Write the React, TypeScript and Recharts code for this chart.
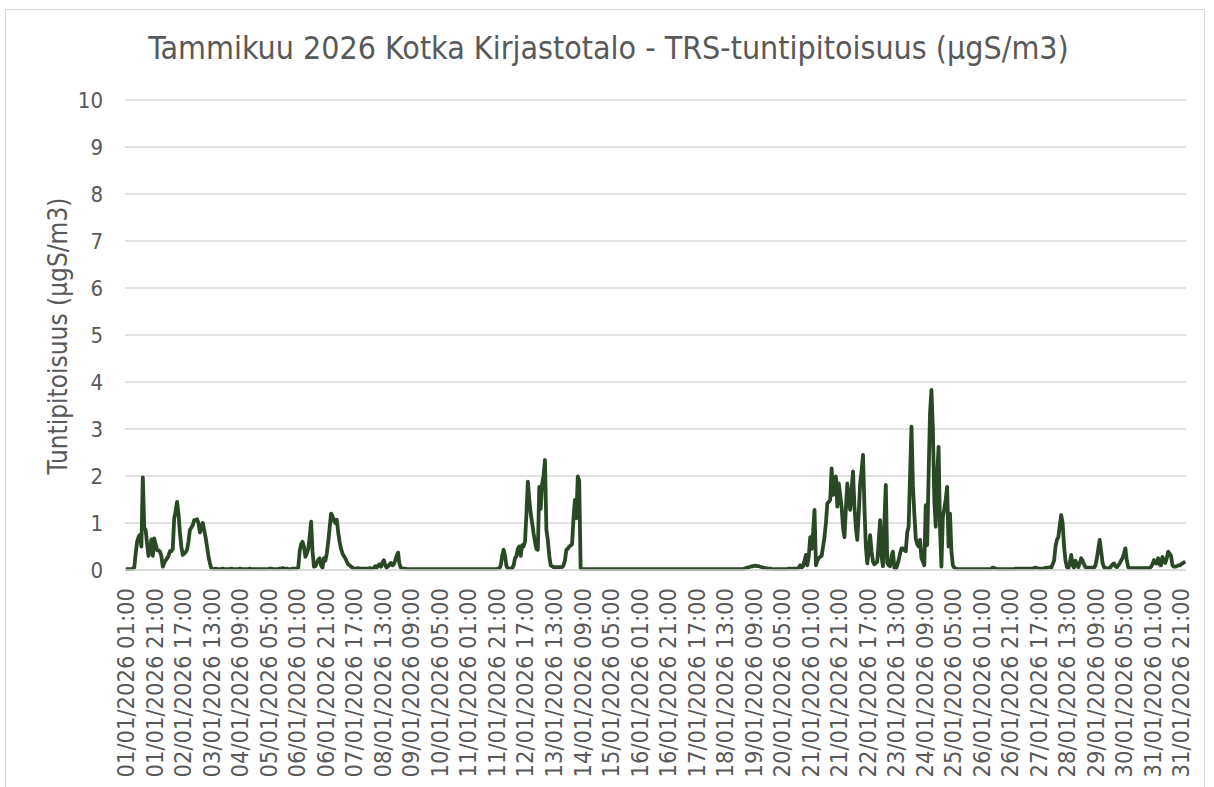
import { LineChart, Line, XAxis, YAxis, CartesianGrid } from "recharts";

// Tammikuu 2026, Kotka Kirjastotalo, TRS hourly values (µgS/m3), one array per day (01:00 ... 24:00)
const d01 = [0.02, 0.02, 0.02, 0.02, 0.02, 0.03, 0.05, 0.35, 0.6, 0.7, 0.75, 0.5, 1.97, 0.9, 0.85, 0.55, 0.3, 0.45, 0.65, 0.3, 0.67, 0.55, 0.42, 0.42];
const d02 = [0.39, 0.3, 0.07, 0.15, 0.2, 0.25, 0.3, 0.4, 0.4, 0.45, 1.1, 1.25, 1.45, 1.2, 0.8, 0.5, 0.32, 0.35, 0.38, 0.43, 0.6, 0.85, 0.9, 0.95];
const d03 = [1.06, 1.06, 1.08, 1.0, 0.8, 0.9, 1.0, 0.85, 0.7, 0.5, 0.3, 0.15, 0.04, 0.02, 0.02, 0.03, 0.02, 0.02, 0.02, 0.02, 0.03, 0.02, 0.02, 0.02];
const d04 = [0.02, 0.02, 0.03, 0.02, 0.02, 0.02, 0.02, 0.02, 0.03, 0.02, 0.02, 0.02, 0.02, 0.02, 0.02, 0.03, 0.02, 0.02, 0.02, 0.02, 0.02, 0.02, 0.02, 0.02];
const d05 = [0.02, 0.02, 0.02, 0.02, 0.02, 0.03, 0.03, 0.02, 0.02, 0.02, 0.02, 0.02, 0.03, 0.03, 0.04, 0.03, 0.03, 0.03, 0.02, 0.02, 0.02, 0.03, 0.03, 0.03];
const d06 = [0.03, 0.05, 0.4, 0.55, 0.6, 0.5, 0.28, 0.35, 0.45, 0.7, 1.03, 0.4, 0.07, 0.08, 0.15, 0.22, 0.25, 0.1, 0.05, 0.25, 0.2, 0.35, 0.6, 0.9];
const d07 = [1.2, 1.15, 1.05, 1.0, 1.07, 0.8, 0.6, 0.45, 0.35, 0.3, 0.25, 0.18, 0.12, 0.1, 0.07, 0.05, 0.03, 0.03, 0.03, 0.04, 0.03, 0.03, 0.03, 0.03];
const d08 = [0.03, 0.03, 0.03, 0.04, 0.03, 0.03, 0.04, 0.08, 0.05, 0.1, 0.12, 0.07, 0.15, 0.21, 0.1, 0.05, 0.08, 0.12, 0.15, 0.1, 0.12, 0.2, 0.3, 0.37];
const d09 = [0.12, 0.05, 0.03, 0.03, 0.03, 0.02, 0.02, 0.02, 0.02, 0.02, 0.02, 0.02, 0.02, 0.02, 0.02, 0.02, 0.02, 0.02, 0.02, 0.02, 0.02, 0.02, 0.02, 0.02];
const d10 = [0.02, 0.02, 0.02, 0.02, 0.02, 0.02, 0.02, 0.02, 0.02, 0.02, 0.02, 0.02, 0.02, 0.02, 0.02, 0.02, 0.02, 0.02, 0.02, 0.02, 0.02, 0.02, 0.02, 0.02];
const d11 = [0.02, 0.02, 0.02, 0.02, 0.02, 0.02, 0.02, 0.02, 0.02, 0.02, 0.02, 0.02, 0.02, 0.02, 0.02, 0.02, 0.02, 0.02, 0.02, 0.02, 0.02, 0.03, 0.03, 0.1];
const d12 = [0.3, 0.43, 0.3, 0.08, 0.03, 0.03, 0.03, 0.04, 0.1, 0.25, 0.3, 0.45, 0.5, 0.3, 0.53, 0.5, 0.6, 1.2, 1.88, 1.5, 1.2, 1.0, 0.78, 0.6];
const d13 = [0.45, 0.43, 1.77, 1.3, 1.84, 2.0, 2.34, 0.85, 0.64, 0.3, 0.1, 0.08, 0.06, 0.06, 0.06, 0.06, 0.06, 0.06, 0.06, 0.1, 0.2, 0.43, 0.45, 0.5];
const d14 = [0.52, 0.55, 1.1, 1.49, 1.1, 1.99, 1.9, 0.03, 0.02, 0.02, 0.02, 0.02, 0.02, 0.02, 0.02, 0.02, 0.02, 0.02, 0.02, 0.02, 0.02, 0.02, 0.02, 0.02];
const d15 = [0.02, 0.02, 0.02, 0.02, 0.02, 0.02, 0.02, 0.02, 0.02, 0.02, 0.02, 0.02, 0.02, 0.02, 0.02, 0.02, 0.02, 0.02, 0.02, 0.02, 0.02, 0.02, 0.02, 0.02];
const d16 = [0.02, 0.02, 0.02, 0.02, 0.02, 0.02, 0.02, 0.02, 0.02, 0.02, 0.02, 0.02, 0.02, 0.02, 0.02, 0.02, 0.02, 0.02, 0.02, 0.02, 0.02, 0.02, 0.02, 0.02];
const d17 = [0.02, 0.02, 0.02, 0.02, 0.02, 0.02, 0.02, 0.02, 0.02, 0.02, 0.02, 0.02, 0.02, 0.02, 0.02, 0.02, 0.02, 0.02, 0.02, 0.02, 0.02, 0.02, 0.02, 0.02];
const d18 = [0.02, 0.02, 0.02, 0.02, 0.02, 0.02, 0.02, 0.02, 0.02, 0.02, 0.02, 0.02, 0.02, 0.02, 0.02, 0.02, 0.02, 0.02, 0.02, 0.02, 0.02, 0.02, 0.02, 0.02];
const d19 = [0.02, 0.02, 0.03, 0.04, 0.05, 0.06, 0.07, 0.08, 0.08, 0.09, 0.09, 0.085, 0.08, 0.07, 0.06, 0.05, 0.04, 0.04, 0.03, 0.03, 0.03, 0.02, 0.02, 0.02];
const d20 = [0.02, 0.02, 0.02, 0.02, 0.02, 0.02, 0.02, 0.02, 0.02, 0.03, 0.03, 0.03, 0.03, 0.03, 0.03, 0.03, 0.05, 0.1, 0.05, 0.08, 0.2, 0.32, 0.1, 0.3];
const d21 = [0.7, 0.45, 0.8, 1.28, 0.1, 0.2, 0.25, 0.28, 0.3, 0.5, 0.7, 1.0, 1.42, 1.45, 1.49, 2.16, 1.6, 1.9, 1.99, 1.35, 1.84, 1.6, 1.35, 0.9];
const d22 = [0.7, 1.3, 1.84, 1.5, 1.28, 1.7, 2.1, 1.35, 0.9, 0.64, 1.2, 1.84, 2.1, 2.45, 1.35, 0.5, 0.14, 0.4, 0.74, 0.4, 0.18, 0.12, 0.15, 0.18];
const d23 = [0.6, 1.06, 0.3, 0.08, 1.0, 1.81, 0.15, 0.1, 0.08, 0.3, 0.39, 0.05, 0.02, 0.1, 0.21, 0.35, 0.46, 0.46, 0.42, 0.4, 0.8, 0.92, 2.0, 3.05];
const d24 = [1.8, 1.2, 0.67, 0.55, 0.5, 0.64, 0.25, 0.18, 0.1, 1.38, 0.53, 2.0, 3.33, 3.83, 3.0, 1.5, 0.92, 2.0, 2.62, 0.9, 0.07, 1.13, 1.3, 1.5];
const d25 = [1.77, 0.5, 1.2, 0.4, 0.1, 0.05, 0.03, 0.02, 0.02, 0.02, 0.02, 0.02, 0.02, 0.02, 0.02, 0.02, 0.02, 0.02, 0.02, 0.02, 0.02, 0.02, 0.02, 0.02];
const d26 = [0.02, 0.02, 0.02, 0.02, 0.02, 0.02, 0.02, 0.03, 0.05, 0.04, 0.03, 0.02, 0.02, 0.02, 0.02, 0.02, 0.02, 0.02, 0.02, 0.02, 0.02, 0.02, 0.02, 0.02];
const d27 = [0.03, 0.03, 0.03, 0.03, 0.03, 0.03, 0.03, 0.03, 0.03, 0.03, 0.03, 0.03, 0.03, 0.04, 0.05, 0.04, 0.03, 0.03, 0.03, 0.03, 0.03, 0.05, 0.04, 0.05];
const d28 = [0.06, 0.05, 0.12, 0.2, 0.5, 0.64, 0.7, 0.95, 1.17, 1.0, 0.5, 0.2, 0.06, 0.04, 0.15, 0.32, 0.1, 0.05, 0.2, 0.12, 0.06, 0.15, 0.25, 0.2];
const d29 = [0.12, 0.06, 0.05, 0.05, 0.05, 0.05, 0.05, 0.05, 0.1, 0.25, 0.45, 0.64, 0.4, 0.15, 0.06, 0.04, 0.04, 0.04, 0.04, 0.08, 0.12, 0.14, 0.08, 0.06];
const d30 = [0.1, 0.14, 0.2, 0.25, 0.35, 0.46, 0.2, 0.06, 0.04, 0.04, 0.04, 0.04, 0.04, 0.04, 0.04, 0.04, 0.04, 0.04, 0.04, 0.04, 0.04, 0.04, 0.04, 0.07];
const d31 = [0.12, 0.21, 0.15, 0.14, 0.25, 0.12, 0.1, 0.28, 0.18, 0.15, 0.25, 0.39, 0.35, 0.3, 0.1, 0.07, 0.07, 0.08, 0.1, 0.1, 0.12, 0.14, 0.16, 0.18];

const tickLabels = [
  "01/01/2026 01:00", "01/01/2026 21:00", "02/01/2026 17:00", "03/01/2026 13:00",
  "04/01/2026 09:00", "05/01/2026 05:00", "06/01/2026 01:00", "06/01/2026 21:00",
  "07/01/2026 17:00", "08/01/2026 13:00", "09/01/2026 09:00", "10/01/2026 05:00",
  "11/01/2026 01:00", "11/01/2026 21:00", "12/01/2026 17:00", "13/01/2026 13:00",
  "14/01/2026 09:00", "15/01/2026 05:00", "16/01/2026 01:00", "16/01/2026 21:00",
  "17/01/2026 17:00", "18/01/2026 13:00", "19/01/2026 09:00", "20/01/2026 05:00",
  "21/01/2026 01:00", "21/01/2026 21:00", "22/01/2026 17:00", "23/01/2026 13:00",
  "24/01/2026 09:00", "25/01/2026 05:00", "26/01/2026 01:00", "26/01/2026 21:00",
  "27/01/2026 17:00", "28/01/2026 13:00", "29/01/2026 09:00", "30/01/2026 05:00",
  "31/01/2026 01:00", "31/01/2026 21:00",
];
const yTicks = [0, 1, 2, 3, 4, 5, 6, 7, 8, 9, 10];

const TITLE = "Tammikuu 2026 Kotka Kirjastotalo - TRS-tuntipitoisuus (µgS/m3)";
const Y_TITLE = "Tuntipitoisuus (µgS/m3)";

const FONT = "'DejaVu Sans Condensed', 'DejaVu Sans', sans-serif";
const GREY = "#595959";
const GRID = "#D9D9D9";
const LINE = "#2A4826";

const days = [d01, d02, d03, d04, d05, d06, d07, d08, d09, d10, d11, d12, d13, d14, d15, d16,
  d17, d18, d19, d20, d21, d22, d23, d24, d25, d26, d27, d28, d29, d30, d31];
const data = days.flat().map((v, i) => ({ i, v }));

// a label every 20 hours
const tickPos = tickLabels.map((_, k) => k * 20);
const labelAt = new Map(tickPos.map((p, k) => [p, tickLabels[k]]));

function XTick({ x, y, payload }: any) {
  return (
    <g transform={`translate(${x},${y + 18})`}>
      <text
        transform="rotate(-90)"
        textAnchor="end"
        dy="0.36em"
        fill={GREY}
        fontSize={23.5}
        style={{ fontFamily: FONT, fontStretch: "condensed" }}
      >
        {labelAt.get(payload.value)}
      </text>
    </g>
  );
}

export default function App() {
  return (
    <div
      style={{
        position: "absolute",
        left: 0,
        top: 0,
        width: 1214,
        height: 787,
        overflow: "hidden",
        background: "#fff",
        fontFamily: FONT,
        fontStretch: "condensed",
      }}
    >
      <div
        style={{
          position: "absolute",
          left: 5,
          top: 9,
          width: 1200,
          height: 820,
          border: `1.5px solid ${GRID}`,
          boxSizing: "border-box",
        }}
      />
      <div
        style={{
          position: "absolute",
          left: 0,
          top: 33,
          width: 1217,
          textAlign: "center",
          fontSize: 31.9,
          lineHeight: "31.9px",
          color: GREY,
          whiteSpace: "nowrap",
        }}
      >
        {TITLE}
      </div>
      <div
        style={{
          position: "absolute",
          left: 58,
          top: 336,
          transform: "translate(-50%, -50%) rotate(-90deg)",
          fontSize: 26,
          lineHeight: "26px",
          color: GREY,
          whiteSpace: "nowrap",
        }}
      >
        {Y_TITLE}
      </div>
      <div style={{ position: "absolute", left: 0, top: 0 }}>
        <LineChart
          width={1214}
          height={787}
          data={data}
          margin={{ top: 100, right: 28, bottom: 17, left: 0 }}
        >
          <CartesianGrid vertical={false} stroke={GRID} strokeWidth={1.5} />
          <XAxis
            dataKey="i"
            type="number"
            domain={[-0.5, 743.5]}
            ticks={tickPos}
            interval={0}
            allowDataOverflow
            height={200}
            tickLine={false}
            tickSize={0}
            tickMargin={0}
            axisLine={{ stroke: GRID, strokeWidth: 1.5 }}
            tick={<XTick />}
          />
          <YAxis
            domain={[0, 10]}
            ticks={yTicks}
            interval={0}
            width={125}
            axisLine={false}
            tickLine={false}
            tickSize={0}
            tickMargin={22}
            tick={{ fill: GREY, fontSize: 22, fontFamily: FONT, style: { fontStretch: "condensed" } } as any}
          />
          <Line
            dataKey="v"
            type="linear"
            stroke={LINE}
            strokeWidth={3.8}
            strokeLinejoin="round"
            dot={false}
            activeDot={false}
            isAnimationActive={false}
          />
        </LineChart>
      </div>
    </div>
  );
}
